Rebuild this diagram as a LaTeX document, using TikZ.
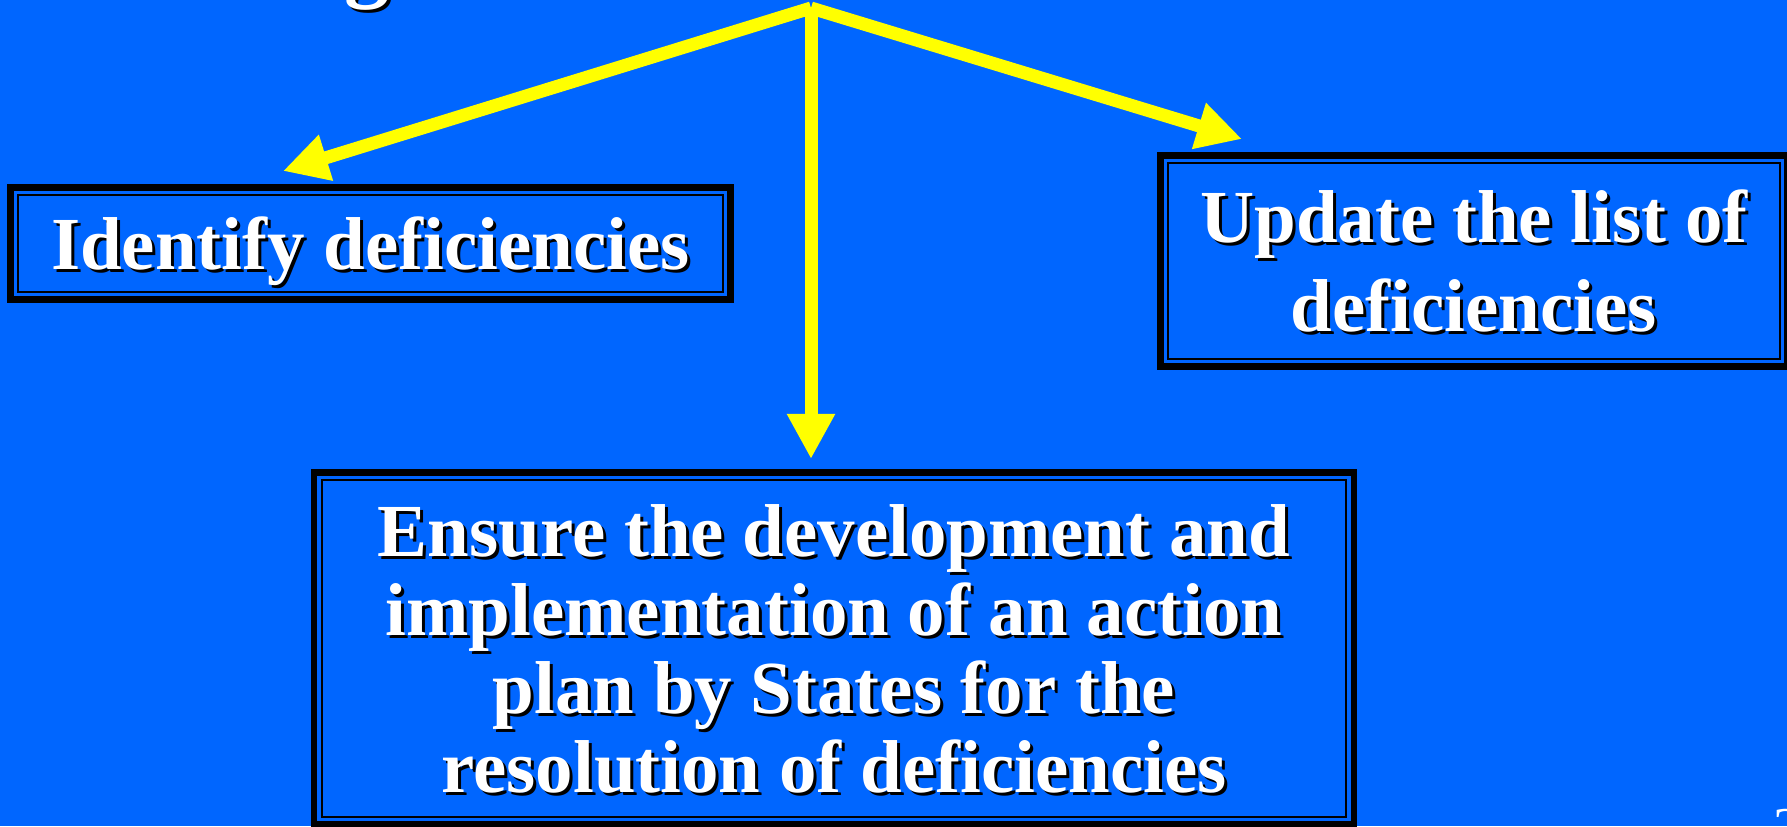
\documentclass[tikz,border=0pt]{standalone}
\usepackage{fontspec}
\setmainfont{Liberation Serif}
\usetikzlibrary{arrows.meta}
\definecolor{slideblue}{RGB}{0,102,255}
\definecolor{arrowyellow}{RGB}{255,255,0}
\newcommand{\shadowtxt}[1]{\rlap{\kern0.03cm\raisebox{-0.03cm}{\color{black}#1}}#1}

\begin{document}
\begin{tikzpicture}[x=0.01cm, y=-0.01cm,
    taskbox/.style={draw=black, line width=0.065cm, fill=slideblue, text=white, inner sep=0pt, outer sep=0pt,
        align=center, text depth=0pt, font=\fontsize{21.3}{22.4}\selectfont\bfseries},
    innerframe/.style={draw=black, line width=0.02cm},
    yarrow/.style={draw=arrowyellow, line width=0.13cm, -{Triangle[length=0.45cm,width=0.45cm]}}]
% Slide background
\fill[slideblue] (0,0) rectangle (1787,826);
\useasboundingbox (0,0) rectangle (1787,826);

% Title (cut off at the top)
\node[anchor=base west, inner sep=0pt, text=white, font=\fontsize{25.6}{26}\selectfont\bfseries] (titlefrag) at (344,-10) {\shadowtxt{g}};

% Task boxes
\node[taskbox, minimum width=7.2cm, minimum height=1.12cm] (idbox) at (370.5,243.5) {\shadowtxt{Identify deficiencies}};
\node[taskbox, minimum width=6.27cm, minimum height=2.11cm] (updbox) at (1474,261) {\shadowtxt{Update the list of}\\[2.9pt] \shadowtxt{deficiencies}};
\node[taskbox, minimum width=10.39cm, minimum height=3.52cm] (ensbox) at (834,648.5) {\shadowtxt{Ensure the development and}\\ \shadowtxt{implementation of an action}\\ \shadowtxt{plan by States for the}\\ \shadowtxt{resolution of deficiencies}};

% Inner frames
\foreach \bx in {idbox, updbox, ensbox} {
    \draw[innerframe] ([xshift=0.08cm, yshift=-0.08cm]\bx.north west) rectangle ([xshift=-0.08cm, yshift=0.08cm]\bx.south east);
}

% Arrows from the top
\coordinate (top) at (811,8);
\coordinate (idtip) at (283,171);
\coordinate (updtip) at (1242,139);
\coordinate (enstip) at (811,459);
\foreach \t in {idtip, enstip, updtip} {
    \draw[yarrow] (top) -- (\t);
}

% Page number
\node[anchor=north west, inner sep=0pt, text=white, font=\fontsize{16}{16}\selectfont] (pagenum) at (1773,809) {2};
\end{tikzpicture}
\end{document}
